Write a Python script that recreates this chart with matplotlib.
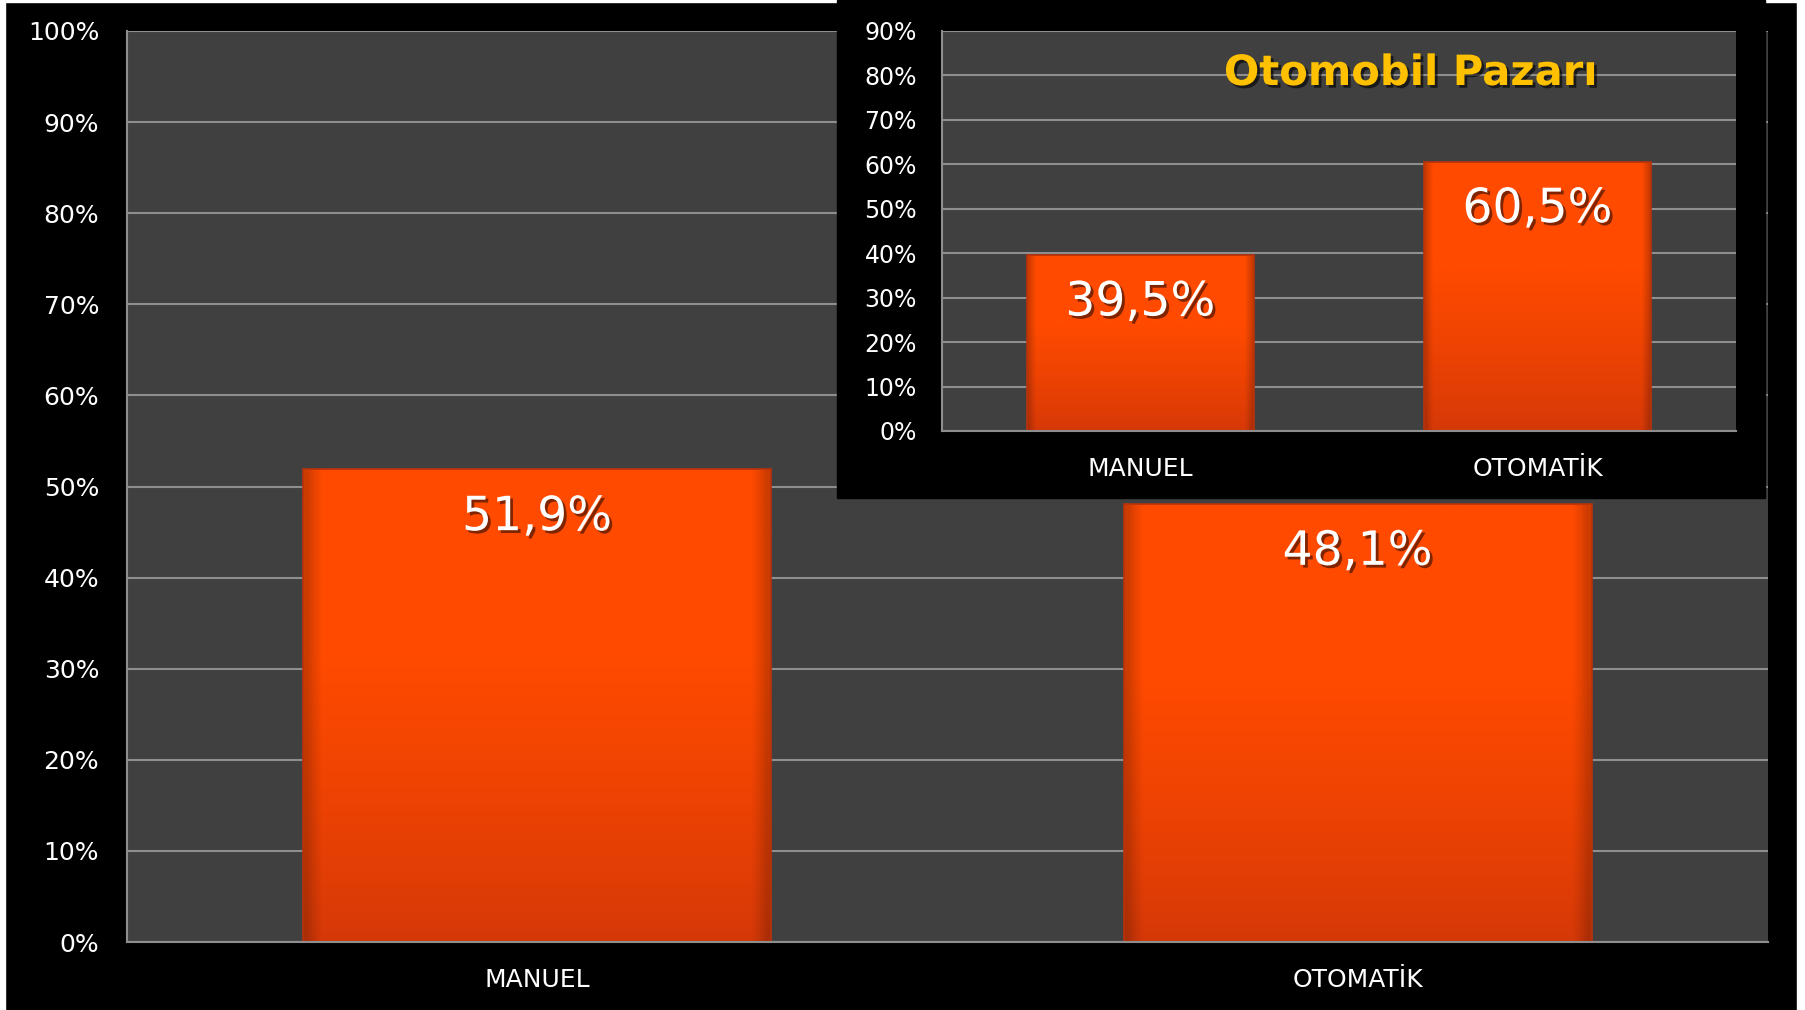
import numpy as np
import matplotlib
matplotlib.use('Agg')
import matplotlib.pyplot as plt
from matplotlib.patches import Rectangle
import matplotlib.patheffects as pe

# data
categories = ['MANUEL', 'OTOMATİK']
main_values = [51.9, 48.1]
main_labels = ['51,9%', '48,1%']
inset_values = [39.5, 60.5]
inset_labels = ['39,5%', '60,5%']
inset_title = 'Otomobil Pazarı'
main_ticks = list(range(0, 101, 10))
inset_ticks = list(range(0, 91, 10))

W, H = 1805, 1010
fig = plt.figure(figsize=(W / 100, H / 100), dpi=100, facecolor='black')

# white frame strips seen at the edges of the picture
fig.patches.append(Rectangle((0, 0), 5 / W, 1, transform=fig.transFigure, color='white', zorder=0))
fig.patches.append(Rectangle((0, 1 - 2 / H), 1, 2 / H, transform=fig.transFigure, color='white', zorder=0))
fig.patches.append(Rectangle((1797 / W, 0), 8 / W, 1, transform=fig.transFigure, color='white', zorder=0))

grid_col = '#8e8e8e'
face_col = '#404040'


def bar_image(n=300, m=60):
	# vertical gradient, darker at bottom, dark sides
	top = np.array([255, 74, 0]) / 255
	bot = np.array([212, 56, 8]) / 255
	t = np.linspace(0, 1, n)[:, None]
	col = bot + (top - bot) * np.clip(t / 0.6, 0, 1) ** 0.8
	img = np.repeat(col[:, None, :], m, axis=1)
	xs = np.linspace(-1, 1, m)
	edge = 1 - 0.2 * np.clip((np.abs(xs) - 0.94) / 0.06, 0, 1)
	img = img * edge[None, :, None]
	return img[::-1]


def draw_axes(ax, values, labels, ticks, ymax, ytick_pad, label_off):
	ax.set_facecolor(face_col)
	x = np.arange(len(values))
	bars = ax.bar(x, values, width=0.57, color='none', edgecolor='#b8320c', linewidth=1.2, zorder=3)
	img = bar_image()
	for b in bars:
		x0 = b.get_x()
		w = b.get_width()
		h = b.get_height()
		im = ax.imshow(img, extent=[x0, x0 + w, 0, h], aspect='auto', zorder=2, interpolation='bilinear')
		im.set_clip_path(b)
	for xi, v, lab in zip(x, values, labels):
		ax.annotate(lab, xy=(xi, v), xytext=(0, label_off), textcoords='offset pixels',
		            ha='center', va='top', color='white', fontsize=34, zorder=5,
		            path_effects=[pe.withSimplePatchShadow(offset=(2, -2), shadow_rgbFace='black', alpha=0.5)])
	ax.set_xlim(-0.5, len(values) - 0.5)
	ax.set_ylim(0, ymax)
	ax.set_yticks(ticks)
	ax.set_yticklabels([f'{t}%' for t in ticks])
	ax.set_xticks(x)
	ax.set_xticklabels(categories)
	ax.yaxis.grid(True, color=grid_col, linewidth=1.5, zorder=1)
	ax.set_axisbelow(True)
	for s in ['top', 'right']:
		ax.spines[s].set_visible(False)
	for s in ['left', 'bottom']:
		ax.spines[s].set_color(grid_col)
		ax.spines[s].set_linewidth(1.5)
		ax.spines[s].set_zorder(4)
	ax.tick_params(axis='both', length=0, colors='white')
	ax.tick_params(axis='y', pad=ytick_pad)
	ax.tick_params(axis='x', pad=19, labelsize=18)


# main chart
ax = fig.add_axes([127 / W, (H - 942) / H, (1768 - 127) / W, (942 - 31) / H])
draw_axes(ax, main_values, main_labels, main_ticks, 100, 20, -26)
ax.tick_params(axis='y', labelsize=18)

# inset box
fig.patches.append(Rectangle((837 / W, (H - 498) / H), (1765 - 837) / W, 498 / H,
                             transform=fig.transFigure, color='black', zorder=1))
ax2 = fig.add_axes([942 / W, (H - 431) / H, (1736 - 942) / W, (431 - 31) / H])
ax2.set_zorder(3)
draw_axes(ax2, inset_values, inset_labels, inset_ticks, 90, 18, -25)
ax2.tick_params(axis='y', labelsize=17)
ax2.text(0.59, 0.895, inset_title, transform=ax2.transAxes, ha='center', va='center',
         color='#ffc000', fontsize=30, fontweight='bold', zorder=6,
         path_effects=[pe.withSimplePatchShadow(offset=(2, -2), shadow_rgbFace='black', alpha=0.6)])

fig.savefig('out.png', dpi=100, facecolor='black')
